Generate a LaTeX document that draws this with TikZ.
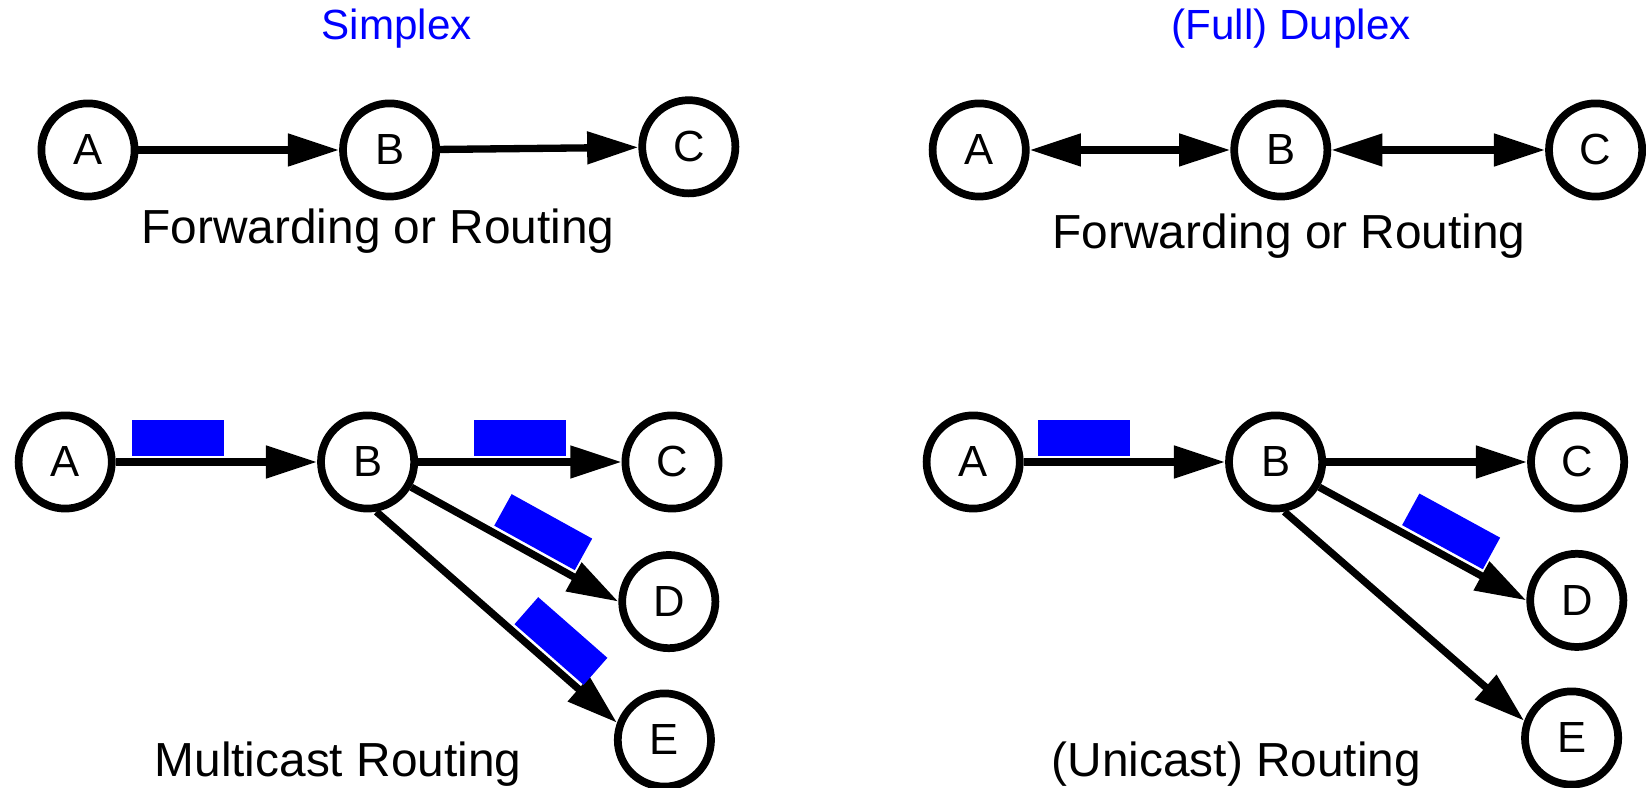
\documentclass[tikz,border=0pt]{standalone}
\usepackage{fontspec}
\setmainfont{Liberation Sans}
\usetikzlibrary{arrows.meta}
\begin{document}
\begin{tikzpicture}[
  >={Triangle[length=1.28cm,width=0.78cm]},
  station/.style={draw, circle, line width=5.5pt, minimum size=2.33cm, inner sep=0pt, font=\fontsize{31}{31}\selectfont},
  conn/.style={line width=5.2pt},
  packet/.style={fill=blue, minimum width=2.3cm, minimum height=0.9cm, inner sep=0pt},
  title/.style={text=blue, font=\fontsize{30}{30}\selectfont},
  caption/.style={font=\fontsize{34}{34}\selectfont}
]
\useasboundingbox (0,0) rectangle (41.15,19.7);
% Simplex
\node[title] (simplex) at (9.92,18.99) {Simplex};
\node[station] (sA) at (2.20,15.95) {A};
\node[station] (sB) at (9.74,15.95) {B};
\node[station] (sC) at (17.22,16.03) {C};
\draw[conn, ->] (sA) -- (sB);
\draw[conn, ->] (sB) -- (sC);
\node[caption] (scap) at (9.45,13.93) {Forwarding or Routing};
% Duplex
\node[title] (duplex) at (32.28,18.99) {(Full) Duplex};
\node[station] (dA) at (24.48,15.95) {A};
\node[station] (dB) at (32.02,15.95) {B};
\node[station] (dC) at (39.89,15.95) {C};
\draw[conn, <->] (dA) -- (dB);
\draw[conn, <->] (dB) -- (dC);
\node[caption] (dcap) at (32.23,13.80) {Forwarding or Routing};
% Multicast
\node[station] (mA) at (1.63,8.15) {A};
\node[station] (mB) at (9.19,8.15) {B};
\node[station] (mC) at (16.80,8.15) {C};
\node[station] (mD) at (16.72,4.66) {D};
\node[station] (mE) at (16.61,1.20) {E};
\draw[conn, ->] (mA.east) -- node[packet, sloped, above=2pt, pos=0.31] {} (mB.west);
\draw[conn, ->] (mB.east) -- node[packet, sloped, above=2pt, pos=0.5] {} (mC.west);
\draw[conn, ->] (mB.-30) -- node[packet, sloped, above=2pt, pos=0.58] {} (mD.west);
\draw[conn, ->] (mB.-80) -- node[packet, sloped, above=2pt, pos=0.7] {} (mE.160);
\node[caption] (mcap) at (8.45,0.60) {Multicast Routing};
% Unicast
\node[station] (uA) at (24.33,8.15) {A};
\node[station] (uB) at (31.89,8.15) {B};
\node[station] (uC) at (39.44,8.15) {C};
\node[station] (uD) at (39.42,4.69) {D};
\node[station] (uE) at (39.29,1.25) {E};
\draw[conn, ->] (uA.east) -- node[packet, sloped, above=2pt, pos=0.3] {} (uB.west);
\draw[conn, ->] (uB.east) -- (uC.west);
\draw[conn, ->] (uB.-30) -- node[packet, sloped, above=2pt, pos=0.58] {} (uD.west);
\draw[conn, ->] (uB.-80) -- (uE.160);
\node[caption] (ucap) at (30.91,0.60) {(Unicast) Routing};
\end{tikzpicture}
\end{document}
